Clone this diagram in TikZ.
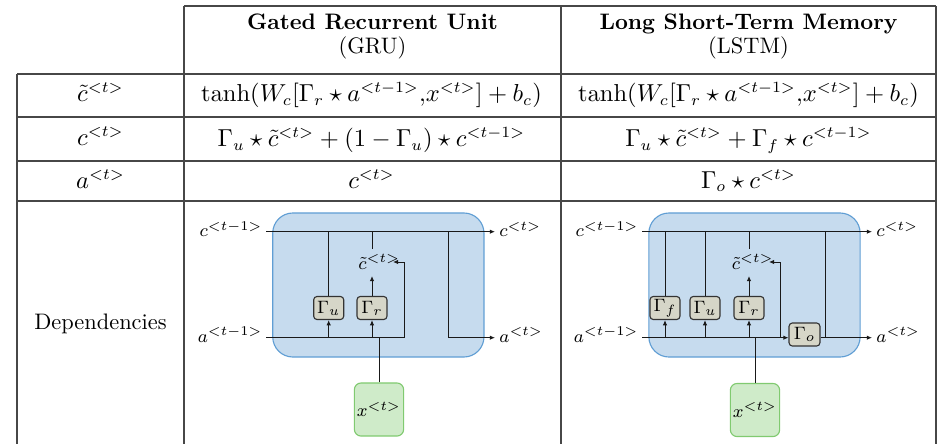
\documentclass[tikz,border=0pt]{standalone}
\usetikzlibrary{arrows.meta}
\definecolor{cellblue}{RGB}{198,219,238}
\definecolor{cellborder}{RGB}{96,158,212}
\definecolor{inpfill}{RGB}{207,235,201}
\definecolor{inpborder}{RGB}{128,202,112}
\definecolor{gatefill}{RGB}{214,214,200}
\begin{document}
\begin{tikzpicture}[x=0.4464pt,y=-0.4464pt,
  tline/.style={draw=black!72, line width=0.55pt},
  hd/.style={anchor=base, inner sep=0pt, font=\fontsize{10}{12}\selectfont},
  hdb/.style={anchor=base, inner sep=0pt, font=\fontsize{10}{12}\selectfont\bfseries},
  mth/.style={anchor=base, inner sep=0pt, font=\fontsize{10.65}{13}\selectfont},
  lab/.style={inner sep=0pt, font=\fontsize{8}{9.6}\selectfont},
  gate/.style={draw=black!80, fill=gatefill, rounded corners=1.5pt, line width=0.5pt,
    minimum width=13.4pt, minimum height=10.3pt, inner sep=0pt, font=\fontsize{8.3}{10}\selectfont},
  cell/.style={draw=cellborder, fill=cellblue, rounded corners=9pt, line width=0.5pt,
    minimum width=94.3pt, minimum height=64.3pt, inner sep=0pt},
  inp/.style={draw=inpborder, fill=inpfill, rounded corners=3pt, line width=0.5pt,
    minimum width=22pt, minimum height=23.7pt, inner sep=0pt, font=\fontsize{8.3}{10}\selectfont},
  wire/.style={draw=black!90, line width=0.45pt},
  arr/.style={wire, -{Latex[length=2.3pt,width=2pt]}}
]
\useasboundingbox (0,0) rectangle (941,444);
% ---------- table ----------
\draw[tline] (184,6) -- (936,6);
\draw[tline] (17,74) -- (936,74);
\draw[tline] (17,117) -- (936,117);
\draw[tline] (17,161) -- (936,161);
\draw[tline] (17,201) -- (936,201);
\draw[tline] (17,74) -- (17,444);
\draw[tline] (184,6) -- (184,444);
\draw[tline] (561,6) -- (561,444);
\draw[tline] (936,6) -- (936,444);
% headers
\node[hdb] (h1a) at (372.5,29.5) {Gated Recurrent Unit};
\node[hd] (h1b) at (372.5,53) {(GRU)};
\node[hdb] (h2a) at (748.5,29.5) {Long Short-Term Memory};
\node[hd] (h2b) at (748.5,53) {(LSTM)};
% left column
\node[mth] (r1) at (100.5,101.5) {$\tilde{c}^{<t>}$};
\node[mth] (r2) at (100.5,145.5) {$c^{<t>}$};
\node[mth] (r3) at (100.5,188) {$a^{<t>}$};
\node[hd] (r4) at (100.5,329) {Dependencies};
% formulas
\node[mth] (g1) at (371.5,101.5) {$\tanh(W_c[\Gamma_r\star a^{<t-1>}{,}x^{<t>}]+b_c)$};
\node[mth] (g2) at (371.5,146.5) {$\Gamma_u\star\tilde{c}^{<t>}+(1-\Gamma_u)\star c^{<t-1>}$};
\node[mth] (g3) at (371.5,188) {$c^{<t>}$};
\node[mth] (l1) at (748.5,101.5) {$\tanh(W_c[\Gamma_r\star a^{<t-1>}{,}x^{<t>}]+b_c)$};
\node[mth] (l2) at (748.5,146.5) {$\Gamma_u\star\tilde{c}^{<t>}+\Gamma_f\star c^{<t-1>}$};
\node[mth] (l3) at (748.5,188) {$\Gamma_o\star c^{<t>}$};
% ---------- GRU diagram ----------
\node[cell] (gcell) at (378.35,285) {};
\node[inp] (gx) at (379,409.5) {$x^{<t>}$};
\node[gate] (gu) at (328.7,308) {$\Gamma_u$};
\node[gate] (gr) at (372,308) {$\Gamma_r$};
\node[lab, anchor=base east] (gcl) at (263,236.5) {$c^{<t-1>}$};
\node[lab, anchor=base west] (gcr) at (499,236.5) {$c^{<t>}$};
\node[lab, anchor=base east] (gal) at (263,342) {$a^{<t-1>}$};
\node[lab, anchor=base west] (gar) at (499,342) {$a^{<t>}$};
\node[lab, anchor=base west] (gtil) at (358,269) {$\tilde{c}^{<t>}$};
\coordinate (gc0) at (266,231.7);
\coordinate (gc1) at (495,231.7);
\coordinate (ga0) at (266,337.7);
\coordinate (gaf) at (404,337.7);
\coordinate (gft) at (404,262);
\coordinate (gtl) at (393,262);
\coordinate (gs0) at (372,231.7);
\coordinate (gs1) at (372,249);
\coordinate (gtb) at (372,276);
\coordinate (gj) at (448.7,231.7);
\coordinate (gj2) at (448.7,337.7);
\coordinate (ga1) at (495,337.7);
\draw[arr] (gc0) -- (gc1);
\draw[arr] (ga0) -- (gaf) -- (gft) -- (gtl);
\draw[wire] (gu.north |- gc0) -- (gu.north);
\draw[arr] (gu.south |- ga0) -- (gu.south);
\draw[arr] (gr.south |- ga0) -- (gr.south);
\draw[arr] (gr.north) -- (gtb);
\draw[wire] (gs0) -- (gs1);
\draw[arr] (gj) -- (gj2) -- (ga1);
\draw[wire] (gx.north) -- (gx.north |- ga0);
% ---------- LSTM diagram ----------
\node[cell] (lcell) at (754.5,285) {};
\node[inp] (lx) at (755,410) {$x^{<t>}$};
\node[gate] (lf) at (665,308) {$\Gamma_f$};
\node[gate] (lu) at (705,308) {$\Gamma_u$};
\node[gate] (lr) at (749,308) {$\Gamma_r$};
\node[gate, minimum width=13.8pt] (lo) at (804.5,334.5) {$\Gamma_o$};
\node[lab, anchor=base east] (lcl) at (639,236.5) {$c^{<t-1>}$};
\node[lab, anchor=base west] (lcr) at (876,236.5) {$c^{<t>}$};
\node[lab, anchor=base east] (lal) at (639,342) {$a^{<t-1>}$};
\node[lab, anchor=base west] (lar) at (876,342) {$a^{<t>}$};
\node[lab, anchor=base west] (ltil) at (731.5,269) {$\tilde{c}^{<t>}$};
\coordinate (lc0) at (642,231.7);
\coordinate (lc1) at (872,231.7);
\coordinate (la0) at (642,337.7);
\coordinate (la1) at (872,337.7);
\coordinate (lf0) at (780,337.7);
\coordinate (lft) at (780,262);
\coordinate (ltl) at (769,262);
\coordinate (ls0) at (749,231.7);
\coordinate (ls1) at (749,249);
\coordinate (ltb) at (749,276);
\coordinate (lj) at (825,231.7);
\draw[arr] (lc0) -- (lc1);
\draw[arr] (la0) -- (lo.west |- la0);
\draw[arr] (lo.east |- la0) -- (la1);
\draw[arr] (lf0) -- (lft) -- (ltl);
\draw[wire] (lf.north |- lc0) -- (lf.north);
\draw[arr] (lf.south |- la0) -- (lf.south);
\draw[wire] (lu.north |- lc0) -- (lu.north);
\draw[arr] (lu.south |- la0) -- (lu.south);
\draw[arr] (lr.south |- la0) -- (lr.south);
\draw[arr] (lr.north) -- (ltb);
\draw[wire] (ls0) -- (ls1);
\draw[wire] (lj) -- (lj |- la0);
\draw[wire] (lx.north) -- (lx.north |- la0);
\end{tikzpicture}
\end{document}
